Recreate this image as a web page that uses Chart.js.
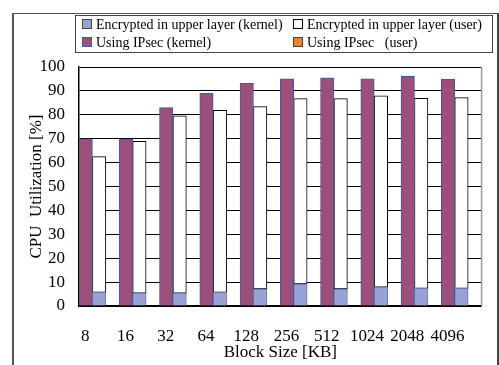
<!DOCTYPE html>
<html>
<head>
<meta charset="utf-8">
<script src="https://cdn.jsdelivr.net/npm/chart.js@4.4.1/dist/chart.umd.min.js"></script>
<style>
  body { margin: 0; background: #fff; }
  #wrap { position: relative; width: 499px; height: 365px; overflow: hidden; }
  #frame { position: absolute; left: 12px; top: 13px; width: 483px; height: 360px;
    border-left: 2px solid #555; border-top: 1px solid #555; border-right: 2px solid #444; }
  #legend { position: absolute; left: 75px; top: 15px; width: 416px; height: 36px;
    border: 1px solid #444; font-family: 'Liberation Serif', serif; font-size: 14px; color: #000; }
  .item { position: absolute; white-space: pre; line-height: 16px; }
  .sw { display: inline-block; width: 8px; height: 8px; margin-right: 4px; vertical-align: 0px; }
</style>
</head>
<body>
<div id="wrap">
  <canvas id="c" width="499" height="365"></canvas>
  <div id="frame"></div>
  <div id="legend"></div>
</div>
<script>
const blockSizes = ['8', '16', '32', '64', '128', '256', '512', '1024', '2048', '4096'];

// CPU utilization [%]
const ipsecKernel = [69.9, 69.8, 83.0, 89.0, 93.2, 95.0, 95.5, 95.0, 96.2, 94.8];
const ipsecUser = [0, 0, 0, 0, 0, 0, 0, 0, 0, 0];
const upperKernel = [5.7, 5.4, 5.4, 5.7, 7.1, 9.2, 7.1, 7.9, 7.4, 7.4];
const upperTotal = [62.5, 68.9, 79.6, 81.9, 83.4, 86.8, 86.8, 87.9, 86.9, 87.2];
const upperUser = upperTotal.map((t, i) => +(t - upperKernel[i]).toFixed(1));

const legendLabels = ['Encrypted in upper layer (kernel)', 'Encrypted in upper layer (user)',
  'Using IPsec (kernel)', 'Using IPsec   (user)'];

const purple = '#9c4f78';
const blue = '#98a2d4';
const orange = '#f0802f';
const serif = "'Liberation Serif', serif";

// legend (two aligned columns, like the original)
const legendItems = [
  { text: legendLabels[0], fill: blue, border: '#444', x: 6, y: 1 },
  { text: legendLabels[1], fill: '#fff', border: '#000', x: 217, y: 1 },
  { text: legendLabels[2], fill: purple, border: '#3b5aa8', x: 6, y: 19 },
  { text: legendLabels[3], fill: orange, border: '#444', x: 217, y: 19 }
];
const legendEl = document.getElementById('legend');
legendItems.forEach(it => {
  const d = document.createElement('div');
  d.className = 'item';
  d.style.left = it.x + 'px';
  d.style.top = it.y + 'px';
  d.innerHTML = '<span class="sw" style="background:' + it.fill + ';border:1px solid ' + it.border + '"></span>';
  d.appendChild(document.createTextNode(it.text));
  legendEl.appendChild(d);
});

// gray right edge of the plot area
const plotEdge = {
  id: 'plotEdge',
  afterDraw(chart) {
    const a = chart.chartArea;
    const ctx = chart.ctx;
    ctx.save();
    ctx.strokeStyle = '#999';
    ctx.lineWidth = 1.5;
    ctx.beginPath();
    ctx.moveTo(a.right, a.top);
    ctx.lineTo(a.right, a.bottom);
    ctx.stroke();
    ctx.restore();
  }
};

const ctx = document.getElementById('c').getContext('2d');
new Chart(ctx, {
  type: 'bar',
  data: {
    labels: blockSizes,
    datasets: [
      { label: legendLabels[2], data: ipsecKernel, stack: 'ipsec', backgroundColor: purple,
        borderColor: '#3b5aa8', borderWidth: 1 },
      { label: legendLabels[3], data: ipsecUser, stack: 'ipsec', backgroundColor: orange,
        borderWidth: 0, inflateAmount: 0 },
      { label: legendLabels[0], data: upperKernel, stack: 'upper', backgroundColor: blue,
        borderColor: '#6a76b8', borderWidth: 1 },
      { label: legendLabels[1], data: upperUser, stack: 'upper', backgroundColor: '#fff',
        borderColor: '#000', borderWidth: 1, borderSkipped: false },
      // empty slot that leaves the gap to the right of each pair
      { label: '', data: blockSizes.map(() => 0), stack: 'gap', backgroundColor: 'rgba(0,0,0,0)',
        borderWidth: 0, inflateAmount: 0 }
    ]
  },
  options: {
    responsive: false,
    animation: false,
    layout: { padding: { top: 67, right: 11, left: 0, bottom: 0 } },
    plugins: { legend: { display: false }, tooltip: { enabled: false } },
    datasets: { bar: { categoryPercentage: 1.0, barPercentage: 1.0 } },
    scales: {
      x: {
        stacked: true,
        grid: { display: false, drawTicks: false },
        border: { color: '#000', width: 1.5 },
        ticks: { color: '#000', font: { family: serif, size: 17 }, padding: 20, labelOffset: -14,
          maxRotation: 0, autoSkip: false },
        title: { display: true, text: 'Block Size [KB]', color: '#000',
          font: { family: serif, size: 17 }, padding: { top: 0, bottom: 2 } },
        afterFit: (scale) => { scale.height = 59; }
      },
      y: {
        stacked: true,
        min: 0,
        max: 100,
        grid: { color: '#000', lineWidth: 1, drawTicks: false },
        border: { color: '#000', width: 1.5 },
        ticks: { stepSize: 10, color: '#000', font: { family: serif, size: 17 }, padding: 14 },
        title: { display: true, text: 'CPU  Utilization [%]', color: '#000',
          font: { family: serif, size: 17 }, padding: { top: 26, bottom: 0 } },
        afterFit: (scale) => { scale.width = 79; }
      }
    }
  },
  plugins: [plotEdge]
});
</script>
</body>
</html>
